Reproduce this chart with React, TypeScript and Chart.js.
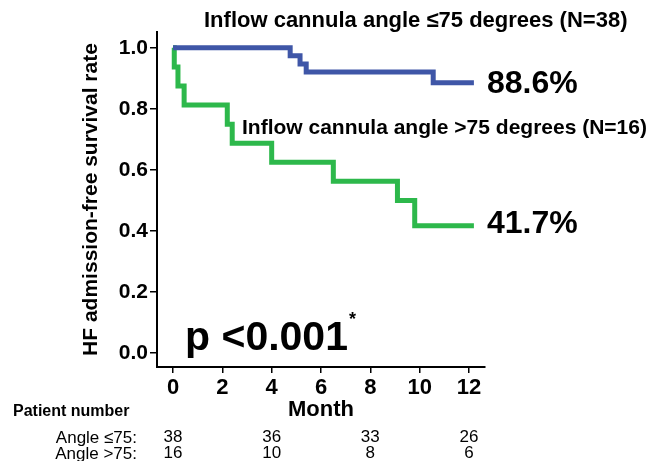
import { useEffect, useRef } from "react";
import { Chart, registerables } from "chart.js";

Chart.register(...registerables);

const FONT = '"Liberation Sans", Arial, sans-serif';

// Kaplan-Meier curves (month of event, survival after event)
const lowAngleMonths = [0, 4.75, 5.15, 5.4, 10.55, 12.2];
const lowAngleSurvival = [1.0, 0.974, 0.947, 0.921, 0.886, 0.886];
const highAngleMonths = [0, 0.05, 0.2, 0.45, 2.2, 2.4, 4.0, 6.5, 9.1, 9.8, 12.2];
const highAngleSurvival = [1.0, 0.9375, 0.875, 0.8125, 0.75, 0.6875, 0.625, 0.5625, 0.5, 0.417, 0.417];

const xTicks = [0, 2, 4, 6, 8, 10, 12];
const yTicks = [0, 0.2, 0.4, 0.6, 0.8, 1.0];

const lowAngleLabel = "Inflow cannula angle \u226475 degrees (N=38)";
const highAngleLabel = "Inflow cannula angle >75 degrees (N=16)";
const pValueLabel = "p <0.001";

// Number at risk
const atRiskMonths = [0, 4, 8, 12];
const atRiskLow = [38, 36, 33, 26];
const atRiskHigh = [16, 10, 8, 6];
const atRiskRowLabels = ["Angle \u226475:", "Angle >75:"];

const BLUE = "#3F56A7";
const GREEN = "#2DB84B";

const textPlugin = {
  id: "kmText",
  afterDraw(chart: any) {
    const ctx = chart.ctx as CanvasRenderingContext2D;
    const xs = chart.scales.x;
    ctx.save();
    ctx.fillStyle = "#000";
    ctx.textAlign = "left";
    ctx.textBaseline = "middle";
    ctx.font = `bold 22px ${FONT}`;
    ctx.fillText(lowAngleLabel, 204, 21);
    ctx.font = `bold 21px ${FONT}`;
    ctx.fillText(highAngleLabel, 242, 128);

    ctx.textBaseline = "alphabetic";
    ctx.font = `bold 32px ${FONT}`;
    const lowFinal = (lowAngleSurvival[lowAngleSurvival.length - 1] * 100).toFixed(1) + "%";
    const highFinal = (highAngleSurvival[highAngleSurvival.length - 1] * 100).toFixed(1) + "%";
    ctx.fillText(lowFinal, 487, 93);
    ctx.fillText(highFinal, 487, 233);

    ctx.font = `bold 41px ${FONT}`;
    ctx.fillText(pValueLabel, 185, 350);
    const w = ctx.measureText(pValueLabel).width;
    ctx.font = `bold 18px ${FONT}`;
    ctx.fillText("*", 185 + w + 1, 325);

    ctx.textBaseline = "middle";
    ctx.font = `bold 16px ${FONT}`;
    ctx.fillText("Patient number", 13, 412);

    ctx.font = `17px ${FONT}`;
    ctx.textAlign = "right";
    ctx.fillText(atRiskRowLabels[0], 137, 438);
    ctx.fillText(atRiskRowLabels[1], 137, 454);
    ctx.textAlign = "center";
    atRiskMonths.forEach((m, i) => {
      const px = xs.getPixelForValue(m);
      ctx.fillText(String(atRiskLow[i]), px, 437);
      ctx.fillText(String(atRiskHigh[i]), px, 453);
    });
    ctx.restore();
  },
};

export default function App() {
  const ref = useRef<HTMLCanvasElement>(null);
  useEffect(() => {
    document.body.style.margin = "0";
    const chart = new Chart(ref.current!, {
      type: "line",
      data: {
        datasets: [
          {
            label: "low",
            data: lowAngleMonths.map((m, i) => ({ x: m, y: lowAngleSurvival[i] })),
            borderColor: BLUE,
            borderWidth: 5,
            stepped: true,
            pointRadius: 0,
            fill: false,
            borderJoinStyle: "miter",
          },
          {
            label: "high",
            data: highAngleMonths.map((m, i) => ({ x: m, y: highAngleSurvival[i] })),
            borderColor: GREEN,
            borderWidth: 5,
            stepped: true,
            pointRadius: 0,
            fill: false,
            borderJoinStyle: "miter",
          },
        ],
      },
      options: {
        animation: false,
        responsive: false,
        devicePixelRatio: 1,
        layout: { padding: { left: 0, top: 32, right: 185, bottom: 0 } },
        plugins: { legend: { display: false }, tooltip: { enabled: false } },
        scales: {
          x: {
            type: "linear",
            min: -0.65,
            max: 12.65,
            afterBuildTicks: (s: any) => {
              s.ticks = xTicks.map((v) => ({ value: v }));
            },
            afterFit: (s: any) => {
              s.height = 94;
            },
            grid: { drawOnChartArea: false, drawTicks: true, tickLength: 6, color: "#000", lineWidth: 1.5 },
            border: { display: true, color: "#000", width: 2 },
            ticks: {
              font: { family: FONT, weight: "bold", size: 22 },
              color: "#000",
              padding: 2,
              maxRotation: 0,
              autoSkip: false,
              callback: (v: any) => String(v),
            },
            title: {
              display: true,
              text: "Month",
              color: "#000",
              font: { family: FONT, weight: "bold", size: 22 },
              padding: { top: 0, bottom: 38 },
            },
          },
          y: {
            type: "linear",
            min: -0.046,
            max: 1.052,
            afterBuildTicks: (s: any) => {
              s.ticks = yTicks.map((v) => ({ value: v }));
            },
            afterFit: (s: any) => {
              s.width = 157;
            },
            grid: { drawOnChartArea: false, drawTicks: true, tickLength: 7, color: "#000", lineWidth: 1.5 },
            border: { display: true, color: "#000", width: 2 },
            ticks: {
              font: { family: FONT, weight: "bold", size: 21 },
              color: "#000",
              padding: 2,
              callback: (v: any) => Number(v).toFixed(1),
            },
            title: {
              display: true,
              text: "HF admission-free survival rate",
              color: "#000",
              font: { family: FONT, weight: "bold", size: 21 },
              padding: { top: 79, bottom: 0 },
            },
          },
        },
      },
      plugins: [textPlugin],
    });
    return () => chart.destroy();
  }, []);
  return (
    <div style={{ width: 670, height: 461 }}>
      <canvas ref={ref} width={670} height={461} style={{ display: "block" }} />
    </div>
  );
}
